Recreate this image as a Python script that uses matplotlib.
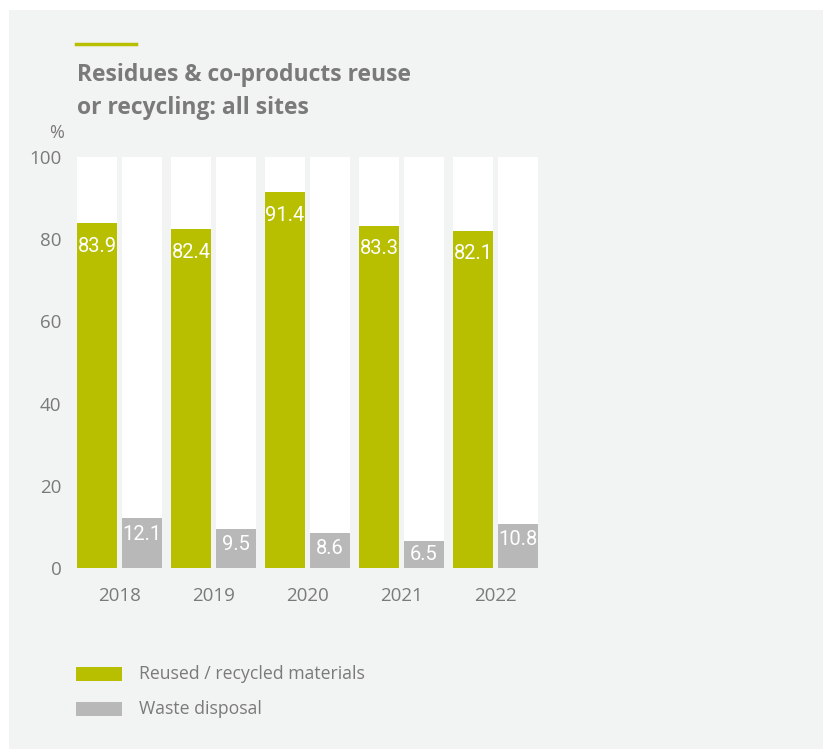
import matplotlib
matplotlib.use("Agg")
import numpy as np
import matplotlib.pyplot as plt
from matplotlib.patches import Rectangle

years = ["2018", "2019", "2020", "2021", "2022"]
reused = [83.9, 82.4, 91.4, 83.3, 82.1]
waste = [12.1, 9.5, 8.6, 6.5, 10.8]
series_names = ["Reused / recycled materials", "Waste disposal"]

green = "#b7bf00"
grey = "#b8b8b8"
bg = "#f2f3f3"
txt = "#7a7a7a"
fam = ["Liberation Sans Narrow", "Open Sans", "DejaVu Sans"]
valfam = ["Liberation Sans Narrow", "Roboto", "DejaVu Sans"]

W, H = 823, 749
fig = plt.figure(figsize=(W / 100, H / 100), dpi=100)
fig.patch.set_facecolor("white")

def fx(px):
    return px / W

def fy(py):
    return 1 - py / H

# panel background
fig.patches.append(Rectangle((fx(9), 0), 1 - fx(9), fy(10), transform=fig.transFigure,
                             facecolor=bg, edgecolor="none", zorder=-10))

# accent line and title
fig.add_artist(plt.Line2D([fx(76), fx(136)], [fy(44), fy(44)], color=green, lw=2.5))
fig.text(fx(77), fy(75), "Residues & co-products reuse", fontsize=16.5, fontweight="bold",
         color=txt, family=["Open Sans", "DejaVu Sans"], va="center")
fig.text(fx(77), fy(108), "or recycling: all sites", fontsize=16.5, fontweight="bold",
         color=txt, family=["Open Sans", "DejaVu Sans"], va="center")

# axes: x from -0.5..4.5 -> 72.5..542.5 px, y 0..100 -> 568..157 px
ax = fig.add_axes([fx(72.5), fy(568), fx(542.5) - fx(72.5), fy(157) - fy(568)])
ax.set_facecolor("none")
x = np.arange(len(years))
bw = 40 / 94
off = 22.5 / 94

ax.bar(x - off, [100] * len(x), width=bw, color="white", zorder=1)
ax.bar(x + off, [100] * len(x), width=bw, color="white", zorder=1)
ax.bar(x - off, reused, width=bw, color=green, zorder=2)
ax.bar(x + off, waste, width=bw, color=grey, zorder=2)

for i in range(len(x)):
    ax.text(x[i] - off, reused[i] - 5.6, f"{reused[i]:.1f}", ha="center", va="center",
            color="white", fontsize=14.5, family=valfam, zorder=3)
    ax.text(x[i] + off, max(waste[i] - 3.9, 3.2), f"{waste[i]:.1f}", ha="center", va="center",
            color="white", fontsize=14.5, family=valfam, zorder=3)

ax.set_xlim(-0.5, 4.5)
ax.set_ylim(0, 100)
for s in ax.spines.values():
    s.set_visible(False)
ax.set_yticks([0, 20, 40, 60, 80, 100])
ax.set_xticks(x)
ax.set_xticklabels(years)
ax.tick_params(length=0, colors=txt, labelsize=13.5)
ax.tick_params(axis="y", pad=8)
ax.tick_params(axis="x", pad=14)
for lab in ax.get_xticklabels() + ax.get_yticklabels():
    lab.set_family(fam)
fig.text(fx(64), fy(133), "%", ha="right", va="center", fontsize=13, color=txt, family=fam)

# legend
fig.patches.append(Rectangle((fx(76), fy(681)), fx(46), 14 / H, transform=fig.transFigure,
                             facecolor=green, edgecolor="none"))
fig.patches.append(Rectangle((fx(76), fy(716)), fx(46), 14 / H, transform=fig.transFigure,
                             facecolor=grey, edgecolor="none"))
fig.text(fx(139), fy(674), series_names[0], fontsize=12.7, color=txt, family=fam, va="center")
fig.text(fx(139), fy(709), series_names[1], fontsize=12.7, color=txt, family=fam, va="center")

fig.savefig("out.png", dpi=100, facecolor="white")
